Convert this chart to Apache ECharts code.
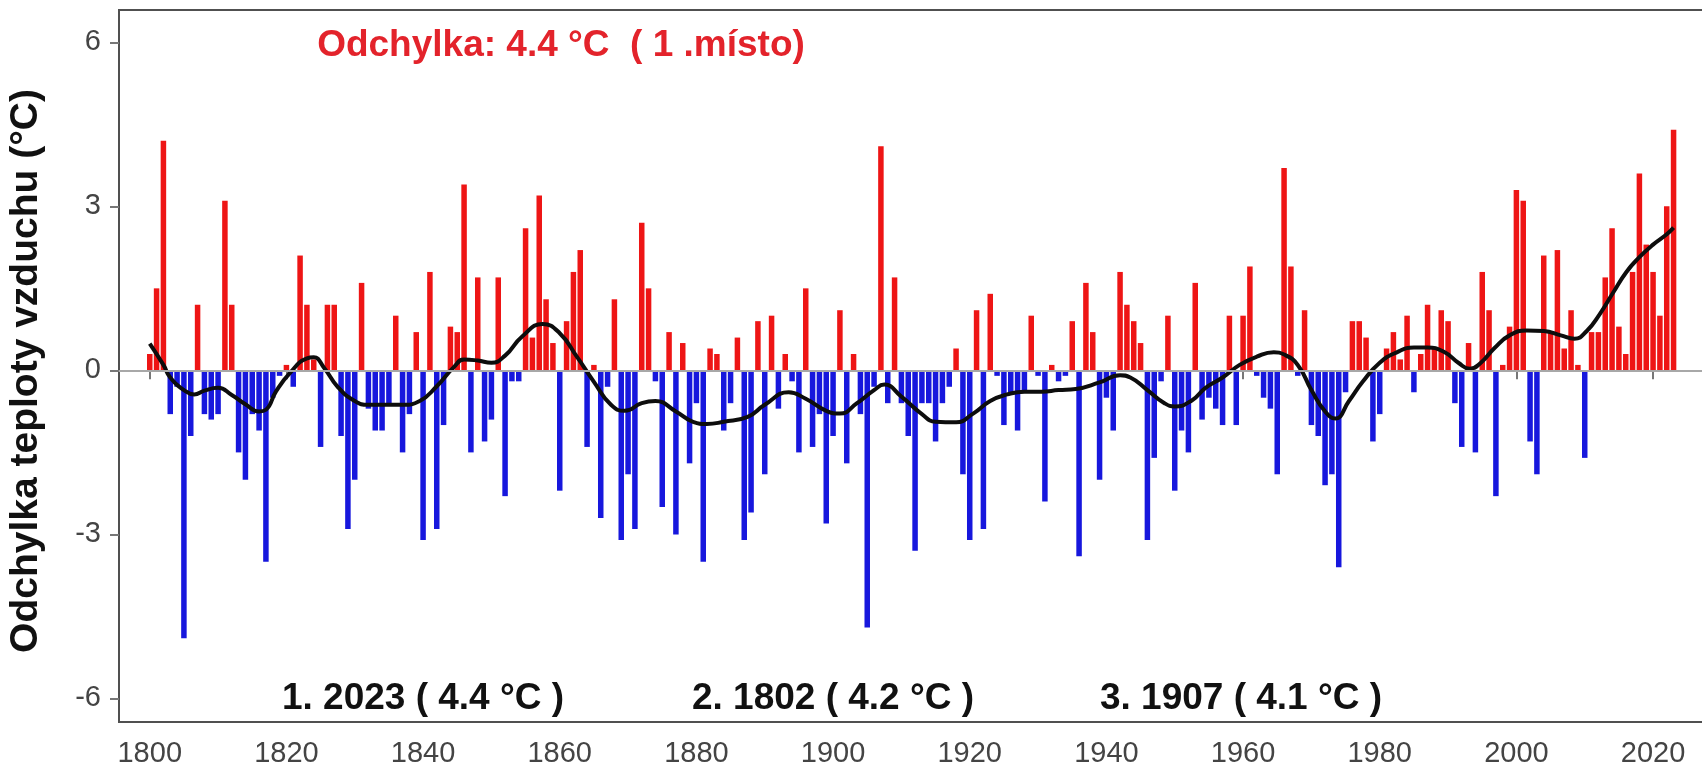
<!DOCTYPE html>
<html>
<head>
<meta charset="utf-8">
<script src="https://cdn.jsdelivr.net/npm/echarts@6/dist/echarts.min.js"></script>
<style>
  html, body { margin: 0; padding: 0; background: #fff; }
  #chart { width: 1702px; height: 778px; }
</style>
</head>
<body>
<div id="chart"></div>
<script>
// annual temperature anomalies (°C), 1800 .. 2023
const firstYear = 1800
const anomalies = [
  0.3, 1.5, 4.2, -0.8, -0.3, -4.9, -1.2, 1.2, -0.8, -0.9,
  -0.8, 3.1, 1.2, -1.5, -2.0, -0.8, -1.1, -3.5, -0.5, -0.1,
  0.1, -0.3, 2.1, 1.2, 0.2, -1.4, 1.2, 1.2, -1.2, -2.9,
  -2.0, 1.6, -0.7, -1.1, -1.1, -0.6, 1.0, -1.5, -0.8, 0.7,
  -3.1, 1.8, -2.9, -1.0, 0.8, 0.7, 3.4, -1.5, 1.7, -1.3,
  -0.9, 1.7, -2.3, -0.2, -0.2, 2.6, 0.6, 3.2, 1.3, 0.5,
  -2.2, 0.9, 1.8, 2.2, -1.4, 0.1, -2.7, -0.3, 1.3, -3.1,
  -1.9, -2.9, 2.7, 1.5, -0.2, -2.5, 0.7, -3.0, 0.5, -1.7,
  -0.6, -3.5, 0.4, 0.3, -1.1, -0.6, 0.6, -3.1, -2.6, 0.9,
  -1.9, 1.0, -0.7, 0.3, -0.2, -1.5, 1.5, -1.4, -0.8, -2.8,
  -1.2, 1.1, -1.7, 0.3, -0.8, -4.7, -0.3, 4.1, -0.6, 1.7,
  -0.6, -1.2, -3.3, -0.6, -0.6, -1.3, -0.6, -0.3, 0.4, -1.9,
  -3.1, 1.1, -2.9, 1.4, -0.1, -1.0, -0.4, -1.1, -0.4, 1.0,
  -0.1, -2.4, 0.1, -0.2, -0.1, 0.9, -3.4, 1.6, 0.7, -2.0,
  -0.5, -1.1, 1.8, 1.2, 0.9, 0.5, -3.1, -1.6, -0.2, 1.0,
  -2.2, -1.1, -1.5, 1.6, -0.9, -0.5, -0.7, -1.0, 1.0, -1.0,
  1.0, 1.9, -0.1, -0.5, -0.7, -1.9, 3.7, 1.9, -0.1, 1.1,
  -1.0, -1.2, -2.1, -1.9, -3.6, -0.4, 0.9, 0.9, 0.6, -1.3,
  -0.8, 0.4, 0.7, 0.2, 1.0, -0.4, 0.3, 1.2, 0.4, 1.1,
  0.9, -0.6, -1.4, 0.5, -1.5, 1.8, 1.1, -2.3, 0.1, 0.8,
  3.3, 3.1, -1.3, -1.9, 2.1, 0.7, 2.2, 0.4, 1.1, 0.1,
  -1.6, 0.7, 0.7, 1.7, 2.6, 0.8, 0.3, 1.8, 3.6, 2.3,
  1.8, 1.0, 3.0, 4.4
]
const years = anomalies.map((v, i) => firstYear + i)

// smoothed curve
const smoothYears = [
  1800, 1802, 1803, 1805, 1806.5, 1808, 1810, 1812, 1814, 1816, 1817, 1818.5,
  1820.5, 1823, 1824, 1825.5, 1827.5, 1830, 1832, 1837, 1839.5, 1842, 1844.5,
  1846, 1848, 1850, 1852, 1854.5, 1857.5, 1860, 1862.5, 1865, 1867.5, 1869.5,
  1872, 1874, 1877, 1879.5, 1881.5, 1884, 1887.5, 1890, 1893.5, 1896, 1899,
  1901, 1903.5, 1906, 1907.5, 1910, 1913, 1915, 1918, 1920.5, 1923, 1925.5,
  1928, 1930.5, 1933, 1935.5, 1939, 1942, 1943.5, 1946, 1948.5, 1950, 1952.5,
  1954.5, 1957, 1959.5, 1962, 1964.5, 1966, 1968, 1970, 1972, 1973.5, 1975.5,
  1977.5, 1980, 1982.5, 1985, 1987, 1989.5, 1991.5, 1993.2, 1994.8, 1996.8,
  1999, 2001.5, 2004, 2006.5, 2008.5, 2010.3, 2012.2, 2014.1, 2016.1, 2018,
  2020, 2022, 2023
]
const smoothValues = [
  0.49, 0.10, -0.13, -0.36, -0.44, -0.37, -0.32, -0.45, -0.62, -0.75, -0.72, -0.38,
  -0.05, 0.22, 0.24, 0.05, -0.3, -0.56, -0.63, -0.63, -0.56, -0.29, 0.06,
  0.2, 0.18, 0.14, 0.27, 0.62, 0.85, 0.68, 0.25, -0.21, -0.63, -0.74,
  -0.6, -0.56, -0.75, -0.94, -0.98, -0.94, -0.85, -0.63, -0.4, -0.52, -0.74,
  -0.79, -0.6, -0.36, -0.26, -0.48, -0.8, -0.94, -0.95, -0.79, -0.56, -0.44,
  -0.39, -0.39, -0.36, -0.34, -0.22, -0.09, -0.13, -0.36, -0.6, -0.66, -0.55,
  -0.32, -0.13, 0.1, 0.25, 0.33, 0.29, 0.1, -0.36, -0.75, -0.88, -0.56,
  -0.21, 0.14, 0.33, 0.42, 0.42, 0.33, 0.14, 0.03, 0.14, 0.41,
  0.64, 0.73, 0.72, 0.64, 0.58, 0.72, 1.03, 1.41, 1.8, 2.07,
  2.3, 2.49, 2.61
]

const yearTicks = [1800, 1820, 1840, 1860, 1880, 1900, 1920, 1940, 1960, 1980, 2000, 2020]
const valueTicks = [-6, -3, 0, 3, 6]

const topNote = 'Odchylka: 4.4 °C  ( 1 .místo)'
const rankNotes = ['1. 2023 ( 4.4 °C )', '2. 1802 ( 4.2 °C )', '3. 1907 ( 4.1 °C )']
const yTitle = 'Odchylka teploty vzduchu (°C)'

const chart = echarts.init(document.getElementById('chart'))
const font = '"Liberation Sans", Arial, sans-serif'

const option = {
  backgroundColor: '#fff',
  animation: false,
  grid: {
    left: 119,
    right: -3,
    top: 10,
    bottom: 56,
    containLabel: false,
    outerBoundsMode: 'none',
    show: true,
    borderColor: '#505050',
    borderWidth: 2
  },
  xAxis: {
    type: 'value',
    min: 1795.5,
    max: 2027.6,
    axisLine: { show: false },
    splitLine: { show: false },
    axisTick: {
      show: true,
      customValues: yearTicks,
      length: 9,
      lineStyle: { color: '#777', width: 2 }
    },
    axisLabel: {
      customValues: yearTicks,
      formatter: (v) => String(v),
      margin: 17,
      color: '#444',
      fontSize: 29,
      fontFamily: font
    }
  },
  yAxis: {
    type: 'value',
    min: -6.43,
    max: 6.59,
    axisLine: { show: false },
    splitLine: { show: false },
    axisTick: {
      show: true,
      customValues: valueTicks,
      length: 9,
      lineStyle: { color: '#777', width: 2 }
    },
    axisLabel: {
      customValues: valueTicks,
      formatter: (v) => String(v),
      margin: 18,
      color: '#444',
      fontSize: 29,
      fontFamily: font
    }
  },
  series: [
    {
      // zero reference line
      type: 'line',
      data: [],
      z: 1,
      silent: true,
      markLine: {
        silent: true,
        symbol: 'none',
        label: { show: false },
        lineStyle: { color: '#a8a8a8', width: 2, type: 'solid' },
        data: [{ yAxis: 0 }]
      }
    },
    {
      type: 'bar',
      z: 2,
      barWidth: 5.5,
      data: years.map((y, i) => [y, anomalies[i]]),
      itemStyle: {
        color: (p) => (p.value[1] >= 0 ? '#ee1515' : '#1717dd')
      }
    },
    {
      type: 'line',
      z: 3,
      smooth: 0.5,
      showSymbol: false,
      data: smoothYears.map((y, i) => [y, smoothValues[i]]),
      lineStyle: { color: '#0d0d0d', width: 4 }
    }
  ],
  graphic: [
    {
      type: 'text',
      x: 561,
      y: 46,
      style: {
        text: topNote,
        font: 'bold 37px ' + font,
        fill: '#e3232b',
        align: 'center',
        verticalAlign: 'middle'
      }
    },
    {
      type: 'text',
      x: 423,
      y: 699,
      style: { text: rankNotes[0], font: 'bold 37px ' + font, fill: '#111', align: 'center', verticalAlign: 'middle' }
    },
    {
      type: 'text',
      x: 833,
      y: 699,
      style: { text: rankNotes[1], font: 'bold 37px ' + font, fill: '#111', align: 'center', verticalAlign: 'middle' }
    },
    {
      type: 'text',
      x: 1241,
      y: 699,
      style: { text: rankNotes[2], font: 'bold 37px ' + font, fill: '#111', align: 'center', verticalAlign: 'middle' }
    },
    {
      type: 'text',
      x: 26,
      y: 371,
      rotation: Math.PI / 2,
      style: { text: yTitle, font: 'bold 39px ' + font, fill: '#111', align: 'center', verticalAlign: 'middle' }
    }
  ]
}

chart.setOption(option)
</script>
</body>
</html>
